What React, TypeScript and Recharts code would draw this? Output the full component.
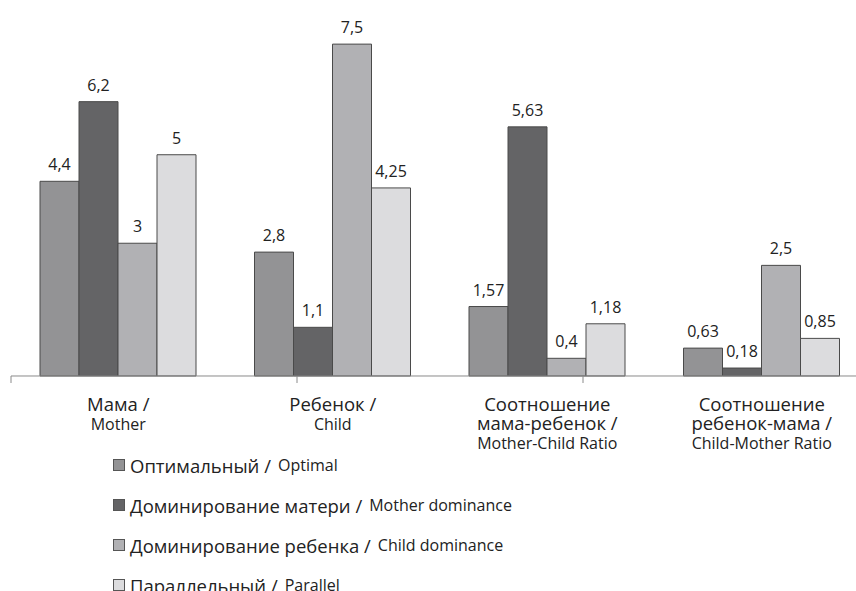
import { Bar, BarChart, LabelList, XAxis, YAxis } from "recharts";

const categoriesRu = [["Мама /"], ["Ребенок /"], ["Соотношение", "мама-ребенок /"], ["Соотношение", "ребенок-мама /"]];
const categoriesEn = ["Mother", "Child", "Mother-Child Ratio", "Child-Mother Ratio"];

const optimal = [4.4, 2.8, 1.57, 0.63];
const motherDominance = [6.2, 1.1, 5.63, 0.18];
const childDominance = [3, 7.5, 0.4, 2.5];
const parallel = [5, 4.25, 1.18, 0.85];

const seriesNamesRu = ["Оптимальный /", "Доминирование матери /", "Доминирование ребенка /", "Параллельный /"];
const seriesNamesEn = ["Optimal", "Mother dominance", "Child dominance", "Parallel"];
const seriesKeys = ["optimal", "motherDominance", "childDominance", "parallel"];
const colors = ["#939395", "#646466", "#b1b1b4", "#dcdcde"];

const data = categoriesEn.map((name, i) => ({
  name,
  optimal: optimal[i],
  motherDominance: motherDominance[i],
  childDominance: childDominance[i],
  parallel: parallel[i],
}));

const font = "'Open Sans', sans-serif";
const fmt = (v: any) => String(v).replace(".", ",");

function CategoryTick(props: any) {
  const { x, y, payload } = props;
  const i = data.findIndex((d) => d.name === payload.value);
  const ru = categoriesRu[i] || [];
  return (
    <g transform={`translate(${x},${y})`}>
      {ru.map((line, k) => (
        <text key={k} x={0} y={27 + k * 19} textAnchor="middle" fontSize={18.5} fill="#222" fontFamily={font}>
          {line}
        </text>
      ))}
      <text x={0} y={27 + ru.length * 19} textAnchor="middle" fontSize={16} fill="#222" fontFamily={font}>
        {categoriesEn[i]}
      </text>
    </g>
  );
}

const EmptyTick = () => <g />;

function LegendBox() {
  return (
    <div style={{ position: "absolute", left: 113, top: 445, fontFamily: font, color: "#222" }}>
      {seriesNamesRu.map((ru, i) => (
        <div key={ru} style={{ display: "flex", alignItems: "center", height: 40, whiteSpace: "nowrap" }}>
          <span
            style={{
              width: 10,
              height: 10,
              background: colors[i],
              border: "1px solid #555",
              marginRight: 5,
              display: "inline-block",
            }}
          />
          <span style={{ fontSize: 18.5 }}>{ru}</span>
          <span style={{ fontSize: 16, marginLeft: 7 }}>{seriesNamesEn[i]}</span>
        </div>
      ))}
    </div>
  );
}

export default function App() {
  return (
    <div style={{ position: "absolute", left: 0, top: 0, width: 856, height: 591, overflow: "hidden", background: "#fff" }}>
      <BarChart
        width={880}
        height={591}
        data={data}
        margin={{ top: 22, right: 11, left: 11, bottom: 185 }}
        barCategoryGap={29}
        barGap={0}
      >
        <YAxis yAxisId="v" hide domain={[0, 8]} />
        <XAxis
          xAxisId="bounds"
          type="number"
          domain={[0, 4]}
          ticks={[0, 1, 2, 3, 4]}
          axisLine={{ stroke: "#8a8a8a" }}
          tick={<EmptyTick />}
          tickSize={7}
          tickLine={{ stroke: "#8a8a8a" }}
          height={0.001}
        />
        <XAxis
          xAxisId="cat"
          dataKey="name"
          axisLine={false}
          tickLine={false}
          tick={<CategoryTick />}
          interval={0}
          height={30}
        />
        {seriesKeys.map((k, i) => (
          <Bar
            key={k}
            xAxisId="cat"
            yAxisId="v"
            dataKey={k}
            fill={colors[i]}
            stroke="#4a4a4a"
            strokeWidth={1}
            isAnimationActive={false}
          >
            <LabelList dataKey={k} position="top" offset={11} formatter={fmt} fontSize={16} fill="#222" fontFamily={font} />
          </Bar>
        ))}
      </BarChart>
      <LegendBox />
    </div>
  );
}
